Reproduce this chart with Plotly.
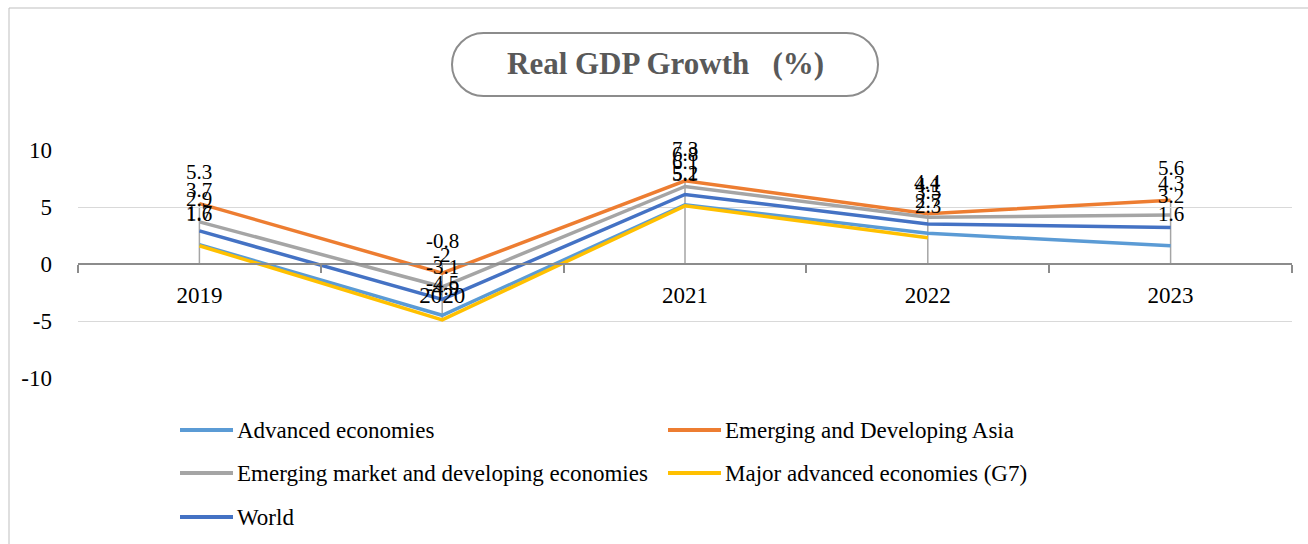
import plotly.graph_objects as go

years = ["2019", "2020", "2021", "2022", "2023"]
advanced = [1.7, -4.5, 5.2, 2.7, 1.6]
em_asia = [5.3, -0.8, 7.3, 4.4, 5.6]
emde = [3.7, -2.0, 6.8, 4.1, 4.3]
g7 = [1.6, -4.9, 5.1, 2.3, None]
world = [2.9, -3.1, 6.1, 3.5, 3.2]
y_ticks = [-10, -5, 0, 5, 10]
y_ticktext = ["-10", "-5", "0", "5", "10"]

series_names = ["Advanced economies", "Emerging and Developing Asia",
                "Emerging market and developing economies",
                "Major advanced economies (G7)", "World"]
series_vals = [advanced, em_asia, emde, g7, world]
colors = ["#5B9BD5", "#ED7D31", "#A5A5A5", "#FFC000", "#4472C4"]

W, H = 1308, 544
X0, X1, Y0, Y1 = 78, 1292, 150, 378


def px(x):
    return (x - X0) / (X1 - X0)


def py(y):
    return (Y1 - y) / (Y1 - Y0)


FONT = "Liberation Serif"
fig = go.Figure()

shapes = []
# drop lines
for i, yr in enumerate(years):
    vals = [s[i] for s in series_vals if s[i] is not None]
    top = max(max(vals), 0)
    bot = min(min(vals), 0)
    shapes.append(dict(type="line", xref="x", yref="y", x0=i, x1=i, y0=bot, y1=top,
                       line=dict(color="#A5A5A5", width=1.5), layer="below"))

for name, vals, col in zip(series_names, series_vals, colors):
    fig.add_trace(go.Scatter(x=years, y=vals, name=name, mode="lines",
                             line=dict(color=col, width=3.5), showlegend=False,
                             connectgaps=False))

annotations = []
for vals in series_vals:
    for i, v in enumerate(vals):
        if v is None:
            continue
        annotations.append(dict(x=i, y=v, xref="x", yref="y", text=f"{v:g}",
                                showarrow=False, yshift=32, xanchor="center",
                                yanchor="middle",
                                font=dict(family=FONT, size=21, color="#000000")))

# title pill
r = 31.5
k = 0.5523 * r
L, R, T, B = 452, 878, 33, 96
cy = (T + B) / 2


def P(x, y):
    return f"{px(x):.5f},{py(y):.5f}"


path = (f"M{P(L + r, T)} L{P(R - r, T)} "
        f"C{P(R - r + k, T)} {P(R, cy - k)} {P(R, cy)} "
        f"C{P(R, cy + k)} {P(R - r + k, B)} {P(R - r, B)} "
        f"L{P(L + r, B)} "
        f"C{P(L + r - k, B)} {P(L, cy + k)} {P(L, cy)} "
        f"C{P(L, cy - k)} {P(L + r - k, T)} {P(L + r, T)} Z")
shapes.append(dict(type="path", xref="paper", yref="paper", path=path,
                   line=dict(color="#8C8C8C", width=2)))
annotations.append(dict(x=px(665), y=py(64), xref="paper", yref="paper",
                        xanchor="center", yanchor="middle",
                        text="<b>Real GDP Growth   (%)</b>", showarrow=False,
                        font=dict(family=FONT, size=31, color="#595959")))

# outer border
shapes.append(dict(type="rect", xref="paper", yref="paper", x0=px(9), x1=px(1330),
                   y0=py(560), y1=py(8), line=dict(color="#BFBFBF", width=1)))

# legend (manual)
leg_pos = [(180, 430), (668, 430), (180, 473), (668, 473), (180, 517)]
for (lx, ly), name, col in zip(leg_pos, series_names, colors):
    shapes.append(dict(type="line", xref="paper", yref="paper", x0=px(lx), x1=px(lx + 53),
                       y0=py(ly), y1=py(ly), line=dict(color=col, width=4)))
    annotations.append(dict(x=px(lx + 55), y=py(ly), xref="paper", yref="paper",
                            text=name, showarrow=False, xanchor="left", yanchor="middle",
                            font=dict(family=FONT, size=23, color="#000000")))

fig.update_layout(
    width=W, height=H,
    margin=dict(l=X0, r=W - X1, t=Y0, b=H - Y1),
    paper_bgcolor="white", plot_bgcolor="white",
    shapes=shapes, annotations=annotations,
    showlegend=False,
    xaxis=dict(type="category", categoryorder="array", categoryarray=years,
               anchor="free", position=0.5, showline=True, linecolor="#8C8C8C",
               linewidth=1.5, ticks="outside", ticklen=8, tickcolor="#8C8C8C",
               tickwidth=1.5, tickson="boundaries", showgrid=False, zeroline=False,
               tickfont=dict(family=FONT, size=23, color="#000000"),
               ticklabelstandoff=11, range=[-0.5, 4.5]),
    yaxis=dict(range=[-10, 10], tickvals=y_ticks, ticktext=y_ticktext,
               gridcolor="#D9D9D9", gridwidth=1,
               zeroline=False, showline=False, ticks="",
               tickfont=dict(family=FONT, size=23, color="#000000"),
               ticklabelstandoff=25),
)

fig.write_html("out.html")
